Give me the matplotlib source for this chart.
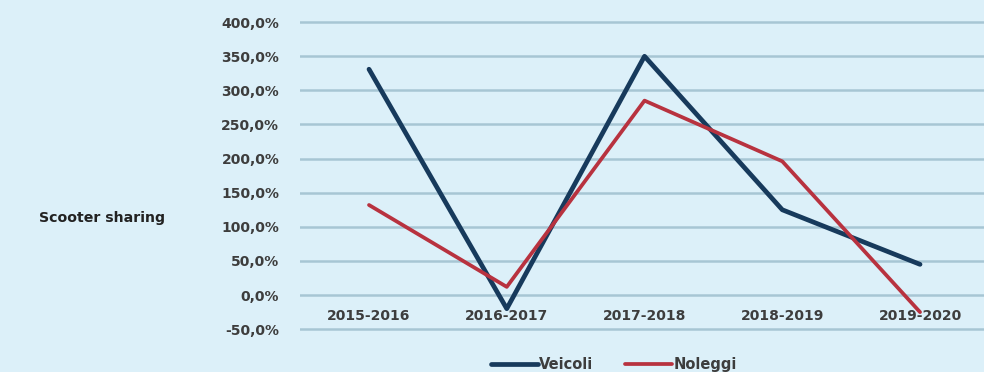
import numpy as np
from matplotlib import pyplot as plt
from matplotlib.ticker import FuncFormatter

periods = ['2015-2016', '2016-2017', '2017-2018', '2018-2019', '2019-2020']
veicoli = [331, -20, 350, 125, 45]
noleggi = [132, 12, 285, 196, -25]

bg = '#dcf0f9'
txt = '#3d3d3d'

fig = plt.figure(figsize=(9.84, 3.72), dpi=100, facecolor=bg)
ax = fig.add_axes([0.305, 0.1078, 0.70, 0.840])
ax.set_facecolor(bg)

x = np.arange(len(periods))
ax.plot(x, veicoli, color='#173a5c', lw=3.4, label='Veicoli', solid_capstyle='round')
ax.plot(x, noleggi, color='#b8323f', lw=2.7, label='Noleggi', solid_capstyle='round')

ax.set_ylim(-54, 404)
ax.set_yticks(np.arange(-50, 401, 50))
ax.yaxis.set_major_formatter(FuncFormatter(lambda v, p: ('%.1f%%' % v).replace('.', ',')))
ax.grid(axis='y', color='#a7c6d4', lw=1.8)
ax.set_axisbelow(True)

ax.set_xlim(-0.5, 4.5)
ax.set_xticks(x)
ax.set_xticklabels(periods)
ax.spines['bottom'].set_position(('data', 0))

for s in ['top', 'right', 'left', 'bottom']:
    ax.spines[s].set_visible(False)
ax.tick_params(axis='both', length=0, colors=txt, labelsize=10)
ax.tick_params(axis='x', pad=10)
ax.tick_params(axis='y', pad=15)
for lab in ax.get_xticklabels() + ax.get_yticklabels():
    lab.set_fontweight('bold')

fig.text(0.04, 0.415, 'Scooter sharing', fontsize=10.2, fontweight='bold', color='#222222',
         va='center', ha='left')

leg = fig.legend(loc='lower center', bbox_to_anchor=(0.624, -0.035), ncol=2, frameon=False,
                 handlelength=3.2, handletextpad=0.1, columnspacing=2.2,
                 prop={'weight': 'bold', 'size': 10.5})
for t in leg.get_texts():
    t.set_color(txt)

fig.savefig('out.png', dpi=100, facecolor=bg)
